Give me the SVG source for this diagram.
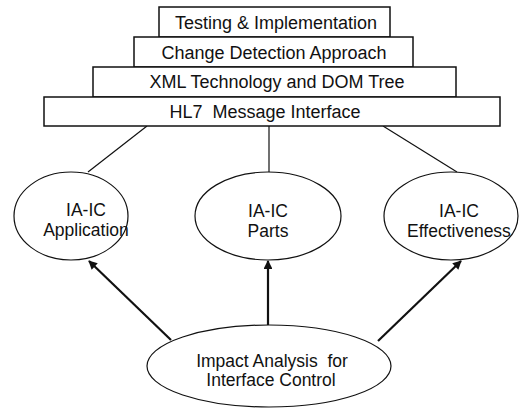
<svg xmlns="http://www.w3.org/2000/svg" width="520" height="410" viewBox="0 0 520 410">
  <style>
    .layer { fill: #ffffff; stroke: #111111; stroke-width: 1.5; }
    .oval { fill: #ffffff; stroke: #111111; stroke-width: 1.2; }
    .label { font-family: "Liberation Sans", Arial, sans-serif; font-size: 17.5px; fill: #111111; text-anchor: middle; }
    .layer-label { font-size: 18px; }
    .link { stroke: #111111; stroke-width: 1.2; fill: none; }
    .arrow { stroke: #111111; stroke-width: 2.2; fill: none; marker-end: url(#head); }
  </style>
  <defs>
    <marker id="head" viewBox="0 0 10 10" refX="9" refY="5" markerWidth="4.5" markerHeight="4" orient="auto" markerUnits="strokeWidth">
      <path d="M0,0 L10,5 L0,10 Z" fill="#111111"/>
    </marker>
  </defs>
  <rect width="520" height="410" fill="#ffffff"/>

  <g id="connectors">
    <line class="link" x1="147" y1="126" x2="88" y2="172"/>
    <line class="link" x1="269" y1="126" x2="269" y2="172"/>
    <line class="link" x1="383" y1="126" x2="457" y2="172"/>
    <line class="arrow" x1="171" y1="340" x2="89" y2="261"/>
    <line class="arrow" x1="268" y1="326" x2="268" y2="261"/>
    <line class="arrow" x1="378" y1="341" x2="461" y2="261"/>
  </g>

  <g id="testing-implementation">
    <rect class="layer" x="159" y="7" width="231" height="30"/>
    <text class="label layer-label" x="276" y="29">Testing &amp; Implementation</text>
  </g>
  <g id="change-detection">
    <rect class="layer" x="134" y="37" width="279" height="30"/>
    <text class="label layer-label" x="274" y="59">Change Detection Approach</text>
  </g>
  <g id="xml-dom">
    <rect class="layer" x="93" y="67" width="363" height="30"/>
    <text class="label layer-label" x="277" y="88">XML Technology and DOM Tree</text>
  </g>
  <g id="hl7-interface">
    <rect class="layer" x="44" y="97" width="456" height="29"/>
    <text class="label layer-label" x="265" y="118" xml:space="preserve">HL7  Message Interface</text>
  </g>

  <g id="ia-ic-application">
    <ellipse class="oval" cx="71" cy="216" rx="57" ry="44"/>
    <text class="label" x="86" y="216">IA-IC</text>
    <text class="label" x="86" y="236">Application</text>
  </g>
  <g id="ia-ic-parts">
    <ellipse class="oval" cx="268" cy="216" rx="73" ry="44"/>
    <text class="label" x="268" y="217">IA-IC</text>
    <text class="label" x="268" y="237">Parts</text>
  </g>
  <g id="ia-ic-effectiveness">
    <ellipse class="oval" cx="451" cy="216" rx="67" ry="44"/>
    <text class="label" x="459" y="217">IA-IC</text>
    <text class="label" x="459" y="237">Effectiveness</text>
  </g>

  <g id="impact-analysis">
    <ellipse class="oval" cx="269" cy="366" rx="122" ry="41"/>
    <text class="label" x="272" y="367" xml:space="preserve">Impact Analysis  for</text>
    <text class="label" x="271" y="386">Interface Control</text>
  </g>
</svg>
